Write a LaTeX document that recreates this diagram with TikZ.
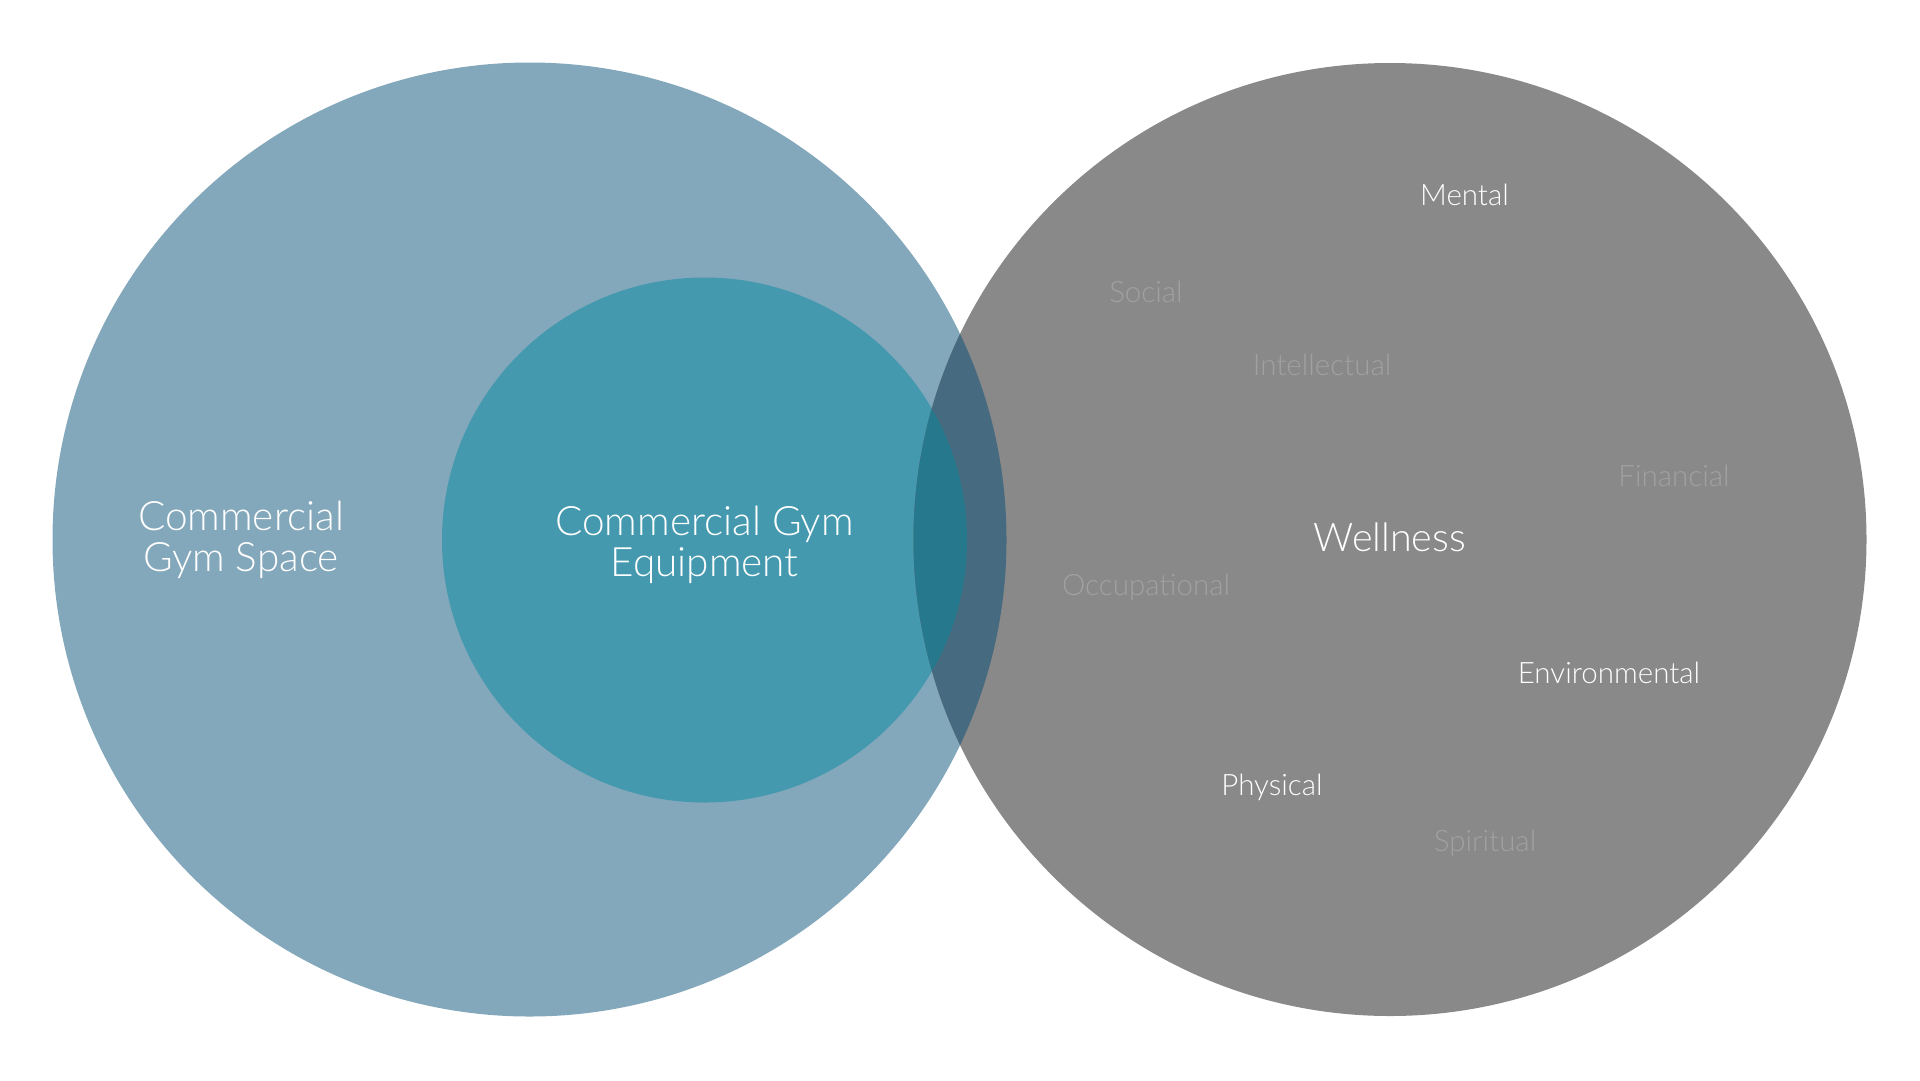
\documentclass[tikz,border=0pt]{standalone}
\usepackage{fontspec}
\setmainfont{Lato}[UprightFont={* Light}]
\definecolor{spaceblue}{RGB}{132,168,187}
\definecolor{equipteal}{RGB}{68,153,175}
\definecolor{wellgray}{RGB}{137,137,137}
\definecolor{overA}{RGB}{70,107,128}
\definecolor{overB}{RGB}{38,121,140}
\definecolor{faint}{RGB}{161,161,161}
\tikzset{
  biglabel/.style={text=white, font=\fontsize{40.5}{41.5}\selectfont, align=center, inner sep=0pt},
  welllabel/.style={text=white, font=\fontsize{39.5}{41}\selectfont, inner sep=0pt},
  brightlabel/.style={text=white, font=\fontsize{29.5}{31}\selectfont, inner sep=0pt},
  faintlabel/.style={text=faint, font=\fontsize{29.5}{31}\selectfont, inner sep=0pt},
}
\begin{document}
\begin{tikzpicture}[x=1pt,y=-1pt]
\useasboundingbox (0,0) rectangle (1920,1080);
\coordinate (cS) at (529.5,539.5);
\coordinate (cE) at (704.5,540);
\coordinate (cW) at (1390,539.5);
\fill[spaceblue] (cS) circle (477);
\fill[equipteal] (cE) circle (262.5);
\fill[wellgray] (cW) circle (476.5);
\begin{scope}
  \clip (cW) circle (476.5);
  \fill[overA] (cS) circle (477);
  \fill[overB] (cE) circle (262.5);
\end{scope}
\node[biglabel] (space) at (241,540) {Commercial\\Gym Space};
\node[biglabel] (equip) at (704.5,545) {Commercial Gym\\Equipment};
\node[welllabel] (well) at (1390,537.5) {Wellness};
\node[brightlabel] (mental) at (1464.5,195) {Mental};
\node[faintlabel] (social) at (1146,291.5) {Social};
\node[faintlabel] (intel) at (1322,365) {Intellectual};
\node[faintlabel] (fin) at (1674,475.5) {Financial};
\node[faintlabel] (occ) at (1146,587) {Occupational};
\node[brightlabel] (env) at (1609,672.5) {Environmental};
\node[brightlabel] (phys) at (1272,787) {Physical};
\node[faintlabel] (spir) at (1485,843) {Spiritual};
\end{tikzpicture}
\end{document}
